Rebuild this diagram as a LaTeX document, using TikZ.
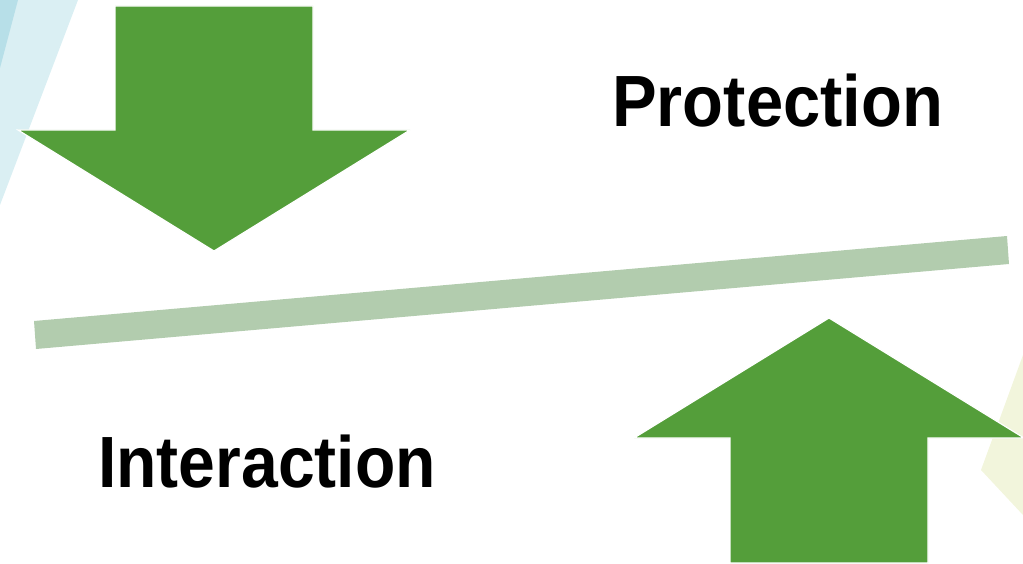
\documentclass[tikz,border=0pt]{standalone}
\usepackage{fontspec}
\setmainfont{Liberation Sans}
\definecolor{arrowgreen}{RGB}{84,158,58}
\definecolor{barsage}{RGB}{178,204,174}
\definecolor{bluelight}{RGB}{218,239,243}
\definecolor{bluedark}{RGB}{183,223,232}
\definecolor{palelime}{RGB}{242,245,220}
\tikzset{
  bigarrow/.style={fill=arrowgreen, draw=white, line width=1.2pt, line join=miter},
  bartilt/.style={fill=barsage, draw=none},
  label/.style={inner sep=0pt, anchor=base west, font=\fontsize{72.6}{80}\selectfont\bfseries}
}
\begin{document}
\begin{tikzpicture}[x=1pt,y=-1pt]
\useasboundingbox (0,0) rectangle (1023,564);
% background decorations
\fill[bluelight] (0,0) -- (78,0) -- (0,205) -- cycle;
\fill[bluedark] (0,0) -- (18,0) -- (0,68) -- cycle;
\fill[palelime] (1023,355) -- (981,470) -- (1023,515) -- cycle;
% tilted bar
\path[bartilt] (34,321) -- (1007,236) -- (1009,264) -- (36,349) -- cycle;
% down arrow
\path[bigarrow] (115,6) -- (313,6) -- (313,130) -- (410,130) -- (214,251) -- (18,130) -- (115,130) -- cycle;
% up arrow
\path[bigarrow] (730,563) -- (730,438) -- (634,438) -- (829,318) -- (1024,438) -- (928,438) -- (928,563) -- cycle;
% labels
\node[label] (prot) at (612,127) {\scalebox{0.922}[1]{Protection}};
\node[label] (inter) at (98,487) {\scalebox{0.91}[1]{Interaction}};
\end{tikzpicture}
\end{document}
